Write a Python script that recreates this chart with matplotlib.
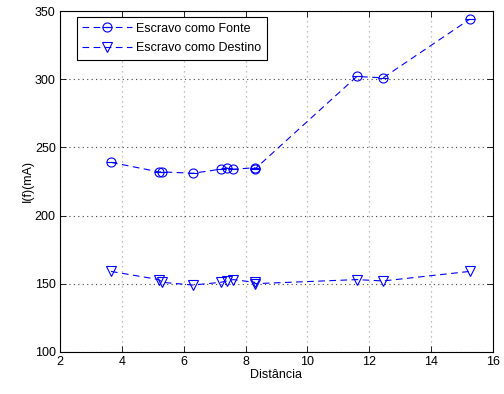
import matplotlib.pyplot as plt
import numpy as np

dist = [3.65, 5.2, 5.3, 6.3, 7.2, 7.4, 7.6, 8.3, 8.3, 11.6, 12.45, 15.25]
i_fonte = [239, 232, 232, 231, 234, 235, 234, 235, 234, 302, 301, 344]
i_destino = [159, 153, 151, 149, 151, 152, 153, 151, 150, 153, 152, 159]

plt.rcParams['font.family'] = ['Liberation Sans', 'DejaVu Sans']
plt.rcParams['font.size'] = 9

fig = plt.figure(figsize=(5.04, 3.94), dpi=100)
ax = fig.add_axes([0.119, 0.107, 0.859, 0.865])

# circle with a horizontal bar through it
l1, = ax.plot(dist, i_fonte, color='blue', lw=0.8, dashes=(6, 4),
              marker='o', ms=6.5, mfc='none', mew=0.8)
l1b, = ax.plot(dist, i_fonte, ls='none', color='blue', marker='_', ms=6.5, mew=0.8)
l2, = ax.plot(dist, i_destino, color='blue', lw=0.8, dashes=(6, 4),
              marker='v', ms=6.5, mfc='none', mew=0.8)

ax.set_xlim(2, 16)
ax.set_ylim(100, 350)
ax.set_xticks(np.arange(2, 17, 2))
ax.set_yticks(np.arange(100, 351, 50))
ax.set_xlabel('Distância', labelpad=1)
ax.set_ylabel('I(f)(mA)', labelpad=1)
ax.xaxis.grid(True, linestyle=(0, (1, 3)), color='#aaaaaa', lw=0.9)
ax.yaxis.grid(True, linestyle=(0, (1, 3)), color='#444444', lw=0.8)
ax.tick_params(direction='in', top=True, right=True, length=4, width=0.6, pad=3)
for s in ax.spines.values():
    s.set_linewidth(0.8)

leg = ax.legend([(l1, l1b), l2], ['Escravo como Fonte', 'Escravo como Destino'],
                loc='upper left', bbox_to_anchor=(0.039, 0.982), borderaxespad=0,
                fancybox=False, edgecolor='black', framealpha=1, handlelength=4,
                borderpad=0.45, labelspacing=0.6, handletextpad=0.3)
leg.get_frame().set_linewidth(0.8)

fig.savefig('out.png', dpi=100)
